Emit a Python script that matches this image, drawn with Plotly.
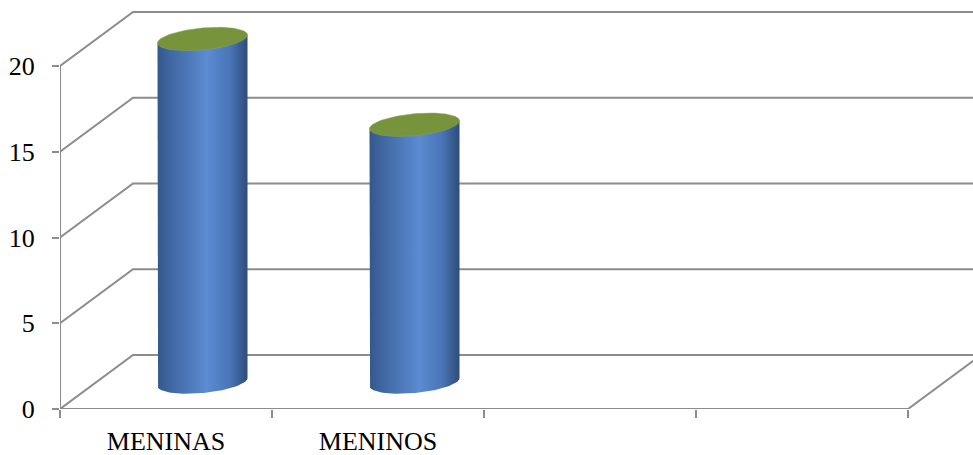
import numpy as np
import plotly.graph_objects as go

# ---- data ----
categories = ["MENINAS", "MENINOS", "", ""]
values = [20, 15]
y_ticks = [0, 5, 10, 15, 20]

# ---- layout constants (pixel geometry of the 3D frame) ----
W, H = 973, 455
ML, MB = 60, 46
PLOT_W, PLOT_H = W - ML, H - MB
PX_X = 212.0          # px per category
PX_Y = 17.15          # px per value unit
DX = 73 / PX_X        # depth offset (x) in data units
DY = 54 / PX_Y        # depth offset (y) in data units
XMAX = PLOT_W / PX_X
YMAX = PLOT_H / PX_Y
NCAT = len(categories)

GRID = "#8c8c8c"
fig = go.Figure()

def line(xs, ys, color=GRID, width=2):
    fig.add_trace(go.Scatter(x=xs, y=ys, mode="lines", line=dict(color=color, width=width),
                             hoverinfo="skip", showlegend=False, cliponaxis=False))

# back wall gridlines + side diagonals
for v in y_ticks:
    line([0, DX, XMAX], [v, v + DY, v + DY])
# floor right edge
line([NCAT, NCAT + DX], [0, DY])
# front floor edge / x-axis line
line([0, NCAT], [0, 0])
# left axis line
line([0, 0], [0, y_ticks[-1]])

# ---- cylinders ----
A = 45 / PX_X
B = 11 / PX_Y
S = 4 / PX_Y
scale = [[0.0, "#34578c"], [0.12, "#3e659f"], [0.55, "#5b8bd2"], [0.8, "#4a76b8"], [1.0, "#2f4c78"]]
for i, v in enumerate(values):
    cx = i + 0.5 + DX / 2
    ybot = DY / 2
    ytop = v + DY / 2
    t = np.linspace(np.pi, 2 * np.pi, 60)
    bx = cx + A * np.cos(t)
    by = ybot + B * np.sin(t) + S * np.cos(t)
    xs = np.concatenate([[cx - A], bx, [cx + A, cx - A]])
    ys = np.concatenate([[ytop - S * -1 * -1], by, [ytop + S, ytop - S]])
    xs = np.concatenate([[cx - A], bx, [cx + A, cx - A]])
    ys = np.concatenate([[ytop - S], by, [ytop + S, ytop - S]])
    fig.add_trace(go.Scatter(x=xs, y=ys, mode="lines", fill="toself", line=dict(width=0),
                             fillgradient=dict(type="horizontal", colorscale=scale),
                             hoverinfo="skip", showlegend=False))
    tt = np.linspace(0, 2 * np.pi, 120)
    ex = cx + A * np.cos(tt)
    ey = ytop + B * np.sin(tt) + S * np.cos(tt)
    fig.add_trace(go.Scatter(x=ex, y=ey, mode="lines", fill="toself", fillcolor="#77933c",
                             line=dict(width=0.5, color="#8aa455"),
                             hoverinfo="skip", showlegend=False))

font = dict(family="Liberation Serif, Times New Roman, serif", size=26, color="black")
fig.update_layout(
    width=W, height=H, margin=dict(l=ML, r=0, t=0, b=MB),
    paper_bgcolor="white", plot_bgcolor="white", showlegend=False,
    xaxis=dict(range=[0, XMAX], tickmode="array",
               tickvals=[i + 0.5 for i in range(NCAT)], ticktext=categories,
               ticks="", showgrid=False, zeroline=False, showline=False,
               tickfont=font, ticklabelstandoff=14, fixedrange=True,
               minor=dict(tickmode="array", tickvals=list(range(NCAT + 1)), ticks="outside",
                          ticklen=8, tickwidth=2, tickcolor=GRID, showgrid=False)),
    yaxis=dict(range=[0, YMAX], tickmode="array", tickvals=y_ticks,
               ticks="outside", ticklen=7, tickwidth=2, tickcolor=GRID,
               showgrid=False, zeroline=False, showline=False,
               tickfont=font, ticklabelstandoff=12, fixedrange=True),
)
fig.write_html("out.html")
